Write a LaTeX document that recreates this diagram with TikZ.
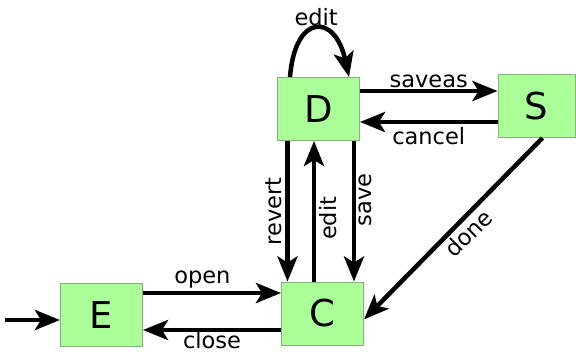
\documentclass[tikz,border=0pt]{standalone}
\usepackage{fontspec}
\setmainfont{DejaVu Sans}
\usetikzlibrary{arrows.meta}
\definecolor{state_green}{HTML}{AAFF99}
\definecolor{state_edge}{HTML}{88B07C}

\tikzset{
  state/.style={draw=state_edge, line width=1pt, fill=state_green,
    minimum width=82pt, minimum height=63pt, inner sep=0pt,
    font=\fontsize{37}{44}\selectfont},
  trans/.style={line width=4.5pt, -{Stealth[length=25pt,width=20pt,inset=6pt]}},
  lbl/.style={font=\fontsize{22.5}{27}\selectfont, inner sep=3pt}
}

\begin{document}
\begin{tikzpicture}[x=1pt, y=-1pt]
    \useasboundingbox (0,0) rectangle (576,354);

    % states
    \node[state] (D) at (318.5, 109) {D};
    \node[state, minimum width=77pt] (S) at (536.5, 106) {S};
    \node[state] (E) at (101.5, 315) {E};
    \node[state] (C) at (322.5, 313.5) {C};

    \coordinate (start) at (5, 320);

    % initial state
    \draw[trans] (start) -- (start -| E.west);

    % E <-> C
    \draw[trans] ([yshift=22pt]E.east) -- ([yshift=22pt]E.east -| C.west)
        node[lbl, pos=0.43, above] {open};
    \draw[trans] ([yshift=-15pt]E.east -| C.west) -- ([yshift=-15pt]E.east)
        node[lbl, midway, below, inner sep=0pt, yshift=1pt] {close};

    % D <-> S
    \draw[trans] ([yshift=18pt]D.east) -- ([yshift=18pt]D.east -| S.west)
        node[lbl, midway, above, inner sep=1pt] {saveas};
    \draw[trans] ([yshift=-13pt]D.east -| S.west) -- ([yshift=-13pt]D.east)
        node[lbl, midway, below] {cancel};

    % D <-> C, labels turned upright along the lines
    \draw[trans] ([xshift=-31pt]D.south) -- ([xshift=-31pt]D.south |- C.north)
        node[lbl, midway, rotate=90, anchor=south] {revert};
    \draw[trans] ([xshift=-4.5pt]D.south |- C.north) -- ([xshift=-4.5pt]D.south)
        node[lbl, pos=0.45, rotate=90, anchor=north] {edit};
    \draw[trans] ([xshift=35.5pt]D.south) -- ([xshift=35.5pt]D.south |- C.north)
        node[lbl, pos=0.42, rotate=90, anchor=north] {save};

    % S -> C
    \draw[trans] ([xshift=6pt]S.south) -- ([yshift=-6pt]C.east)
        node[lbl, pos=0.47, rotate=45, anchor=north] {done};

    % self loop on D
    \draw[trans] ([xshift=13pt]D.north west) .. controls +(5,-64) and +(-14,-64) .. ([xshift=-11pt]D.north east)
        node[lbl, midway, above, inner sep=1pt] {edit};

\end{tikzpicture}
\end{document}
